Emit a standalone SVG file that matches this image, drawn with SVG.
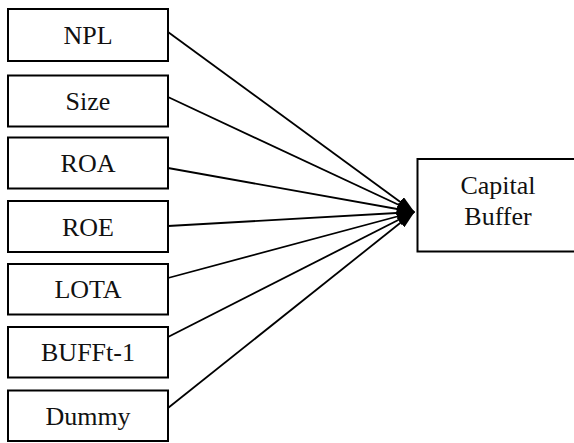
<svg xmlns="http://www.w3.org/2000/svg" width="574" height="443" viewBox="0 0 574 443">
<style>
.box{fill:#fff;stroke:#000;stroke-width:2}
.lbl{font-size:26px;fill:#111;text-anchor:middle}
.con{stroke:#000;stroke-width:1.8;fill:none;marker-end:url(#ah)}
</style>
<defs>
<marker id="ah" markerUnits="userSpaceOnUse" markerWidth="18" markerHeight="12" refX="17" refY="6" orient="auto">
<path d="M0,0 L18,6 L0,12 Z" fill="#000"/>
</marker>
</defs>
<rect width="574" height="443" fill="#fff"/>
<g id="connectors">
<line class="con" x1="168" y1="32" x2="414" y2="212"/>
<line class="con" x1="168" y1="97" x2="414" y2="212"/>
<line class="con" x1="168" y1="168" x2="414" y2="212"/>
<line class="con" x1="168" y1="226" x2="414" y2="212"/>
<line class="con" x1="168" y1="278" x2="414" y2="212"/>
<line class="con" x1="168" y1="337" x2="414" y2="212"/>
<line class="con" x1="168" y1="408" x2="414" y2="212"/>
</g>
<g font-family="'Liberation Serif', 'Times New Roman', Times, 'DejaVu Serif', serif">
<g id="npl"><rect class="box" x="8" y="9" width="160" height="52"/><text class="lbl" x="88" y="44">NPL</text></g>
<g id="size"><rect class="box" x="8" y="75.5" width="160" height="51"/><text class="lbl" x="88" y="110">Size</text></g>
<g id="roa"><rect class="box" x="8" y="137.5" width="160" height="51"/><text class="lbl" x="88" y="172">ROA</text></g>
<g id="roe"><rect class="box" x="8" y="201" width="160" height="51"/><text class="lbl" x="88" y="235.5">ROE</text></g>
<g id="lota"><rect class="box" x="8" y="264" width="160" height="50.5"/><text class="lbl" x="88" y="298">LOTA</text></g>
<g id="bufft1"><rect class="box" x="8" y="327" width="160" height="50.5"/><text class="lbl" x="88" y="361">BUFFt-1</text></g>
<g id="dummy"><rect class="box" x="8" y="390.5" width="160" height="50.5"/><text class="lbl" x="88" y="424.5">Dummy</text></g>
<g id="capital-buffer"><rect class="box" x="417.5" y="159" width="170" height="92.5"/><text class="lbl" x="498" y="194">Capital</text><text class="lbl" x="498" y="225">Buffer</text></g>
</g>
</svg>
